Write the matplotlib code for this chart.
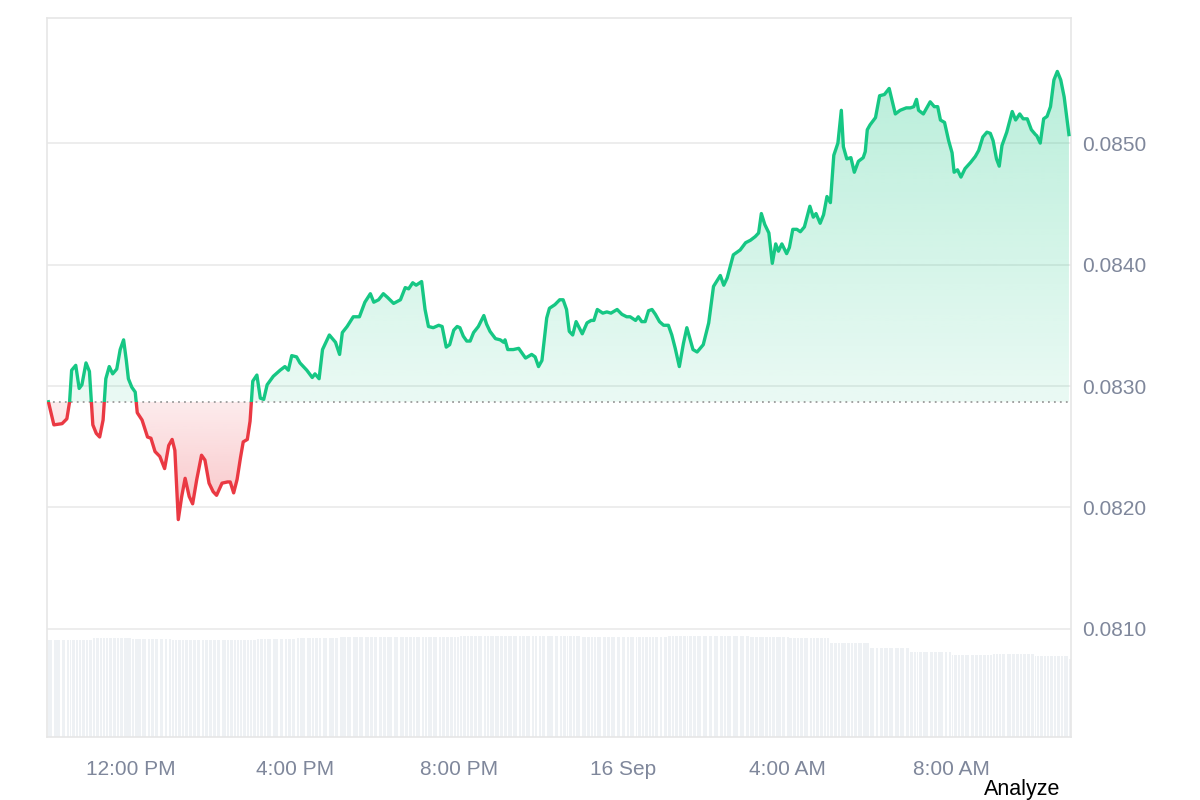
import numpy as np
import pandas as pd
import matplotlib
matplotlib.use("Agg")
import matplotlib.pyplot as plt
import matplotlib.dates as mdates
from matplotlib.colors import to_rgb
from matplotlib.path import Path
from matplotlib.patches import Rectangle

plt.rcParams['font.family'] = ['Liberation Sans', 'DejaVu Sans']

# price samples, 15 Sep -> 16 Sep (HH:MM, day rolls over at midnight)
times = [
    "09:59", "10:07", "10:19", "10:26", "10:30", "10:33", "10:39", "10:44", "10:48", "10:54",
    "10:59", "11:04", "11:09", "11:14", "11:19", "11:23", "11:28", "11:33", "11:39", "11:44",
    "11:49", "11:53", "11:56", "12:01", "12:06", "12:09", "12:16", "12:24", "12:29", "12:35",
    "12:42", "12:49", "12:55", "13:00", "13:04", "13:09", "13:14", "13:19", "13:25", "13:30",
    "13:36", "13:43", "13:48", "13:54", "14:00", "14:05", "14:13", "14:21", "14:25", "14:30",
    "14:35", "14:40", "14:44", "14:50", "14:54", "14:58", "15:04", "15:09", "15:14", "15:19",
    "15:28", "15:38", "15:45", "15:50", "15:55", "16:02", "16:07", "16:17", "16:25", "16:29",
    "16:35", "16:40", "16:50", "16:59", "17:05", "17:09", "17:16", "17:25", "17:34", "17:42",
    "17:50", "17:55", "18:02", "18:09", "18:15", "18:24", "18:34", "18:41", "18:46", "18:52",
    "18:57", "19:05", "19:10", "19:15", "19:22", "19:30", "19:35", "19:41", "19:46", "19:52",
    "19:57", "20:01", "20:06", "20:11", "20:16", "20:21", "20:28", "20:36", "20:40", "20:45",
    "20:53", "21:00", "21:05", "21:07", "21:11", "21:19", "21:27", "21:32", "21:37", "21:46",
    "21:51", "21:56", "22:01", "22:08", "22:12", "22:20", "22:27", "22:32", "22:37", "22:41",
    "22:46", "22:51", "23:00", "23:07", "23:13", "23:17", "23:22", "23:30", "23:36", "23:42",
    "23:51", "23:58", "00:05", "00:10", "00:18", "00:22", "00:27", "00:32", "00:37", "00:42",
    "00:47", "00:53", "00:59", "01:06", "01:11", "01:16", "01:22", "01:28", "01:33", "01:36",
    "01:42", "01:48", "01:57", "02:05", "02:12", "02:22", "02:27", "02:32", "02:41", "02:51",
    "02:59", "03:06", "03:13", "03:18", "03:22", "03:27", "03:33", "03:38", "03:43", "03:47",
    "03:52", "03:59", "04:03", "04:08", "04:14", "04:19", "04:25", "04:33", "04:38", "04:42",
    "04:48", "04:53", "04:58", "05:03", "05:08", "05:14", "05:19", "05:22", "05:27", "05:33",
    "05:38", "05:44", "05:51", "05:54", "05:57", "06:01", "06:09", "06:15", "06:22", "06:29",
    "06:38", "06:45", "06:54", "07:00", "07:05", "07:09", "07:12", "07:19", "07:29", "07:35",
    "07:40", "07:44", "07:50", "07:56", "08:01", "08:04", "08:09", "08:14", "08:20", "08:28",
    "08:35", "08:40", "08:46", "08:52", "08:57", "09:01", "09:06", "09:10", "09:14", "09:21",
    "09:29", "09:34", "09:40", "09:45", "09:51", "09:57", "10:03", "10:05", "10:10", "10:15",
    "10:20", "10:25", "10:30", "10:35", "10:40", "10:45", "10:52",
]
prices = [
    0.08287, 0.08268, 0.08269, 0.08273, 0.08287, 0.08313, 0.08317, 0.08298, 0.08301, 0.08319,
    0.08312, 0.08268, 0.08261, 0.08258, 0.08272, 0.08306, 0.08316, 0.08310, 0.08314, 0.08330,
    0.08338, 0.08321, 0.08306, 0.08299, 0.08295, 0.08278, 0.08272, 0.08258, 0.08257, 0.08246,
    0.08242, 0.08232, 0.08251, 0.08256, 0.08247, 0.08190, 0.08209, 0.08224, 0.08209, 0.08203,
    0.08223, 0.08243, 0.08239, 0.08220, 0.08213, 0.08210, 0.08220, 0.08221, 0.08221, 0.08212,
    0.08223, 0.08241, 0.08254, 0.08256, 0.08271, 0.08304, 0.08309, 0.08290, 0.08289, 0.08301,
    0.08308, 0.08313, 0.08316, 0.08313, 0.08325, 0.08324, 0.08319, 0.08313, 0.08307, 0.08310,
    0.08306, 0.08330, 0.08342, 0.08336, 0.08326, 0.08344, 0.08349, 0.08357, 0.08357, 0.08369,
    0.08376, 0.08369, 0.08371, 0.08376, 0.08373, 0.08368, 0.08371, 0.08381, 0.08380, 0.08385,
    0.08383, 0.08386, 0.08363, 0.08349, 0.08348, 0.08350, 0.08349, 0.08332, 0.08334, 0.08346,
    0.08349, 0.08348, 0.08341, 0.08337, 0.08337, 0.08344, 0.08349, 0.08358, 0.08351, 0.08345,
    0.08339, 0.08338, 0.08336, 0.08338, 0.08330, 0.08330, 0.08331, 0.08327, 0.08323, 0.08326,
    0.08324, 0.08316, 0.08321, 0.08356, 0.08364, 0.08367, 0.08371, 0.08371, 0.08363, 0.08345,
    0.08342, 0.08353, 0.08343, 0.08352, 0.08354, 0.08354, 0.08363, 0.08360, 0.08361, 0.08360,
    0.08363, 0.08359, 0.08357, 0.08357, 0.08354, 0.08357, 0.08353, 0.08353, 0.08362, 0.08363,
    0.08359, 0.08353, 0.08350, 0.08350, 0.08342, 0.08331, 0.08316, 0.08335, 0.08348, 0.08342,
    0.08330, 0.08328, 0.08334, 0.08352, 0.08382, 0.08391, 0.08383, 0.08389, 0.08408, 0.08412,
    0.08418, 0.08420, 0.08423, 0.08426, 0.08442, 0.08433, 0.08426, 0.08401, 0.08417, 0.08411,
    0.08417, 0.08409, 0.08414, 0.08429, 0.08429, 0.08427, 0.08431, 0.08448, 0.08439, 0.08442,
    0.08434, 0.08441, 0.08456, 0.08451, 0.08490, 0.08500, 0.08527, 0.08497, 0.08487, 0.08488,
    0.08476, 0.08485, 0.08488, 0.08493, 0.08511, 0.08515, 0.08521, 0.08539, 0.08540, 0.08545,
    0.08524, 0.08527, 0.08529, 0.08529, 0.08530, 0.08536, 0.08527, 0.08524, 0.08534, 0.08530,
    0.08530, 0.08519, 0.08517, 0.08502, 0.08492, 0.08476, 0.08478, 0.08472, 0.08479, 0.08484,
    0.08489, 0.08494, 0.08505, 0.08509, 0.08508, 0.08502, 0.08487, 0.08481, 0.08498, 0.08509,
    0.08526, 0.08519, 0.08524, 0.08520, 0.08520, 0.08511, 0.08507, 0.08506, 0.08500, 0.08520,
    0.08522, 0.08530, 0.08552, 0.08559, 0.08552, 0.08538, 0.08507,
]
base_price = 0.08287

# hourly volume readings (arbitrary units) for the grey bars at the bottom
vol_times = ["10:00", "11:00", "12:00", "13:00", "14:00", "15:00", "16:00", "17:00", "18:00",
             "19:00", "20:00", "21:00", "22:00", "23:00", "00:00", "01:00", "02:00", "03:00",
             "04:00", "05:00", "06:00", "07:00", "08:00", "09:00", "10:00", "10:50"]
volumes = [9.7, 9.9, 9.8, 9.7, 9.7, 9.8, 9.9, 10.0, 10.0,
           10.0, 10.1, 10.1, 10.1, 10.0, 10.0, 10.1, 10.1, 10.0,
           9.9, 9.4, 8.9, 8.5, 8.2, 8.3, 8.1, 7.8]

y_ticks = [0.0810, 0.0820, 0.0830, 0.0840, 0.0850]
x_tick_times = ["2024-09-15 12:00", "2024-09-15 16:00", "2024-09-15 20:00",
                "2024-09-16 00:00", "2024-09-16 04:00", "2024-09-16 08:00"]
x_tick_labels = ["12:00 PM", "4:00 PM", "8:00 PM", "16 Sep", "4:00 AM", "8:00 AM"]
x_range = ["2024-09-15 09:57", "2024-09-16 10:55"]

GREEN = "#16c784"
RED = "#ea3943"
LABEL = "#7f879b"


def to_num(hhmm, start_day="2024-09-15"):
    """HH:MM strings -> matplotlib date numbers, rolling over at midnight."""
    day = pd.Timestamp(start_day)
    out, prev = [], None
    for s in hhmm:
        h, m = map(int, s.split(":"))
        mins = h * 60 + m
        if prev is not None and mins < prev:
            day += pd.Timedelta(days=1)
        prev = mins
        out.append((day + pd.Timedelta(minutes=mins)).to_pydatetime())
    return mdates.date2num(out)


def stamps(strings):
    return mdates.date2num(pd.to_datetime(strings).to_pydatetime())


def gradient_fill(ax, x, y, base, color, above, a_lo, a_hi):
    y = np.asarray(y)
    where = y >= base if above else y <= base
    coll = ax.fill_between(x, y, base, where=where, interpolate=True,
                           facecolor="none", edgecolor="none")
    path = Path.make_compound_path(*coll.get_paths())
    lo, hi = (base, y.max()) if above else (y.min(), base)
    img = np.zeros((256, 1, 4))
    img[..., :3] = to_rgb(color)
    img[:, 0, 3] = np.linspace(a_lo, a_hi, 256)
    im = ax.imshow(img, extent=[x[0], x[-1], lo, hi], origin="lower",
                   aspect="auto", zorder=1, interpolation="bilinear")
    im.set_clip_path(path, ax.transData)


x = to_num(times)
p = np.array(prices)
xv = to_num(vol_times)
x0, x1 = stamps(x_range)

fig = plt.figure(figsize=(12, 8), dpi=100)
ax = fig.add_axes([0.0392, 0.07875, 0.8533, 0.89875])
ax2 = ax.twinx()

# volume bars (behind the price axes)
idx = np.clip(np.searchsorted(xv, x, side="right") - 1, 0, len(volumes) - 1)
bar_h = np.array(volumes)[idx]
gaps = np.diff(x)
widths = np.append(gaps, gaps[-1]) * 0.7
ax2.bar(x, bar_h, width=widths, align="edge", color="#eef1f4", linewidth=0)
ax2.set_ylim(0, 72)
ax2.set_yticks([])
for s in ax2.spines.values():
    s.set_visible(False)

ax.set_zorder(ax2.get_zorder() + 1)
ax.patch.set_visible(False)

ylo, yhi = 0.08011, 0.08603

gradient_fill(ax, x, p, base_price, GREEN, True, 0.09, 0.30)
gradient_fill(ax, x, p, base_price, RED, False, 0.30, 0.10)

up, = ax.plot(x, p, color=GREEN, lw=2.4, zorder=3, solid_joinstyle="round")
up.set_clip_path(Rectangle((x0, base_price), x1 - x0, 0.01, transform=ax.transData))
dn, = ax.plot(x, p, color=RED, lw=2.4, zorder=3, solid_joinstyle="round")
dn.set_clip_path(Rectangle((x0, base_price - 0.01), x1 - x0, 0.01, transform=ax.transData))

ax.axhline(base_price, color="#9b9b9b", lw=1.3, linestyle=(0, (1, 2.3)), zorder=2.5)

ax.yaxis.tick_right()
ax.set_yticks(y_ticks)
ax.set_yticklabels([f"{v:.4f}" for v in y_ticks])
ax.set_xticks(stamps(x_tick_times))
ax.set_xticklabels(x_tick_labels)
ax.set_xlim(x0, x1)
ax.set_ylim(ylo, yhi)
ax.tick_params(axis="y", length=0, pad=8, labelsize=15, labelcolor=LABEL)
ax.tick_params(axis="x", length=0, pad=16.5, labelsize=15, labelcolor=LABEL)
ax.grid(axis="y", color="#ececec", lw=1.3)
ax.set_axisbelow(True)
for s in ax.spines.values():
    s.set_color("#e6e6e6")
    s.set_linewidth(1.2)

fig.text(1022 / 1200, 1 - 789 / 800, "Analyze", ha="center", va="center",
         fontsize=15.5, color="black")

fig.savefig("out.png", dpi=100, facecolor="white")
